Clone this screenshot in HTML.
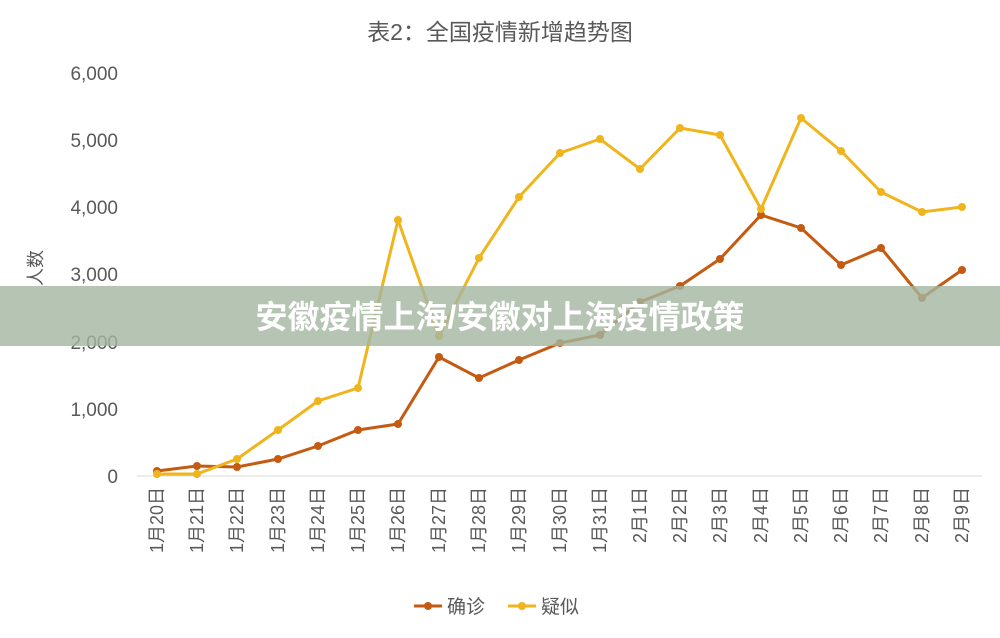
<!DOCTYPE html>
<html><head><meta charset="utf-8"><style>
body{margin:0;background:#fff;}
svg text{font-family:"Liberation Sans","Noto Sans CJK SC",sans-serif;}
</style></head><body>
<svg width="1000" height="633" viewBox="0 0 1000 633" xmlns="http://www.w3.org/2000/svg">
<rect width="1000" height="633" fill="#fff"/>
<text x="500" y="40" text-anchor="middle" font-size="23" fill="#595959">表2：全国疫情新增趋势图</text>
<g font-size="19" fill="#595959" text-anchor="end">
<text x="118" y="483">0</text>
<text x="118" y="416">1,000</text>
<text x="118" y="349">2,000</text>
<text x="118" y="281">3,000</text>
<text x="118" y="214">4,000</text>
<text x="118" y="147">5,000</text>
<text x="118" y="80">6,000</text>
</g>
<text transform="translate(42,268) rotate(-90)" text-anchor="middle" font-size="18" fill="#595959">人数</text>
<line x1="137" y1="476" x2="982" y2="476" stroke="#d9d9d9" stroke-width="1"/>
<polyline fill="none" stroke="#c55a11" stroke-width="3" points="157,471 197,466 237,467 278,459 318,446 358,430 398,424 439,357 479,378 519,360 560,343 600,335 640,302 680,286 720,259 761,215 801,228 841,265 881,248 922,298 962,270"/>
<polyline fill="none" stroke="#f0b51c" stroke-width="3" points="157,474 197,474 237,459 278,430 318,401 358,388 398,220 439,336 479,258 519,197 560,153 600,139 640,169 680,128 720,135 761,209 801,118 841,151 881,192 922,212 962,207"/>
<g fill="#c55a11">
<circle cx="157" cy="471" r="4"/><circle cx="197" cy="466" r="4"/><circle cx="237" cy="467" r="4"/><circle cx="278" cy="459" r="4"/><circle cx="318" cy="446" r="4"/><circle cx="358" cy="430" r="4"/><circle cx="398" cy="424" r="4"/><circle cx="439" cy="357" r="4"/><circle cx="479" cy="378" r="4"/><circle cx="519" cy="360" r="4"/><circle cx="560" cy="343" r="4"/><circle cx="600" cy="335" r="4"/><circle cx="640" cy="302" r="4"/><circle cx="680" cy="286" r="4"/><circle cx="720" cy="259" r="4"/><circle cx="761" cy="215" r="4"/><circle cx="801" cy="228" r="4"/><circle cx="841" cy="265" r="4"/><circle cx="881" cy="248" r="4"/><circle cx="922" cy="298" r="4"/><circle cx="962" cy="270" r="4"/>
</g>
<g fill="#f0b51c">
<circle cx="157" cy="474" r="4"/><circle cx="197" cy="474" r="4"/><circle cx="237" cy="459" r="4"/><circle cx="278" cy="430" r="4"/><circle cx="318" cy="401" r="4"/><circle cx="358" cy="388" r="4"/><circle cx="398" cy="220" r="4"/><circle cx="439" cy="336" r="4"/><circle cx="479" cy="258" r="4"/><circle cx="519" cy="197" r="4"/><circle cx="560" cy="153" r="4"/><circle cx="600" cy="139" r="4"/><circle cx="640" cy="169" r="4"/><circle cx="680" cy="128" r="4"/><circle cx="720" cy="135" r="4"/><circle cx="761" cy="209" r="4"/><circle cx="801" cy="118" r="4"/><circle cx="841" cy="151" r="4"/><circle cx="881" cy="192" r="4"/><circle cx="922" cy="212" r="4"/><circle cx="962" cy="207" r="4"/>
</g>
<g font-size="18" fill="#595959" text-anchor="end">
<text transform="translate(163,487) rotate(-90)">1月20日</text>
<text transform="translate(203,487) rotate(-90)">1月21日</text>
<text transform="translate(243,487) rotate(-90)">1月22日</text>
<text transform="translate(284,487) rotate(-90)">1月23日</text>
<text transform="translate(324,487) rotate(-90)">1月24日</text>
<text transform="translate(364,487) rotate(-90)">1月25日</text>
<text transform="translate(404,487) rotate(-90)">1月26日</text>
<text transform="translate(445,487) rotate(-90)">1月27日</text>
<text transform="translate(485,487) rotate(-90)">1月28日</text>
<text transform="translate(525,487) rotate(-90)">1月29日</text>
<text transform="translate(566,487) rotate(-90)">1月30日</text>
<text transform="translate(606,487) rotate(-90)">1月31日</text>
<text transform="translate(646,487) rotate(-90)">2月1日</text>
<text transform="translate(686,487) rotate(-90)">2月2日</text>
<text transform="translate(726,487) rotate(-90)">2月3日</text>
<text transform="translate(767,487) rotate(-90)">2月4日</text>
<text transform="translate(807,487) rotate(-90)">2月5日</text>
<text transform="translate(847,487) rotate(-90)">2月6日</text>
<text transform="translate(887,487) rotate(-90)">2月7日</text>
<text transform="translate(928,487) rotate(-90)">2月8日</text>
<text transform="translate(968,487) rotate(-90)">2月9日</text>
</g>
<line x1="414" y1="606" x2="442" y2="606" stroke="#c55a11" stroke-width="3"/><circle cx="428" cy="606" r="4" fill="#c55a11"/>
<text x="447" y="613" font-size="19" fill="#595959">确诊</text>
<line x1="508" y1="606" x2="536" y2="606" stroke="#f0b51c" stroke-width="3"/><circle cx="522" cy="606" r="4" fill="#f0b51c"/>
<text x="541" y="613" font-size="19" fill="#595959">疑似</text>
<rect x="0" y="286" width="1000" height="60" fill="#a3b5a0" fill-opacity="0.8"/>
<text x="500" y="328" text-anchor="middle" font-size="32" font-weight="bold" fill="#fff">安徽疫情上海/安徽对上海疫情政策</text>
</svg>
</body></html>
